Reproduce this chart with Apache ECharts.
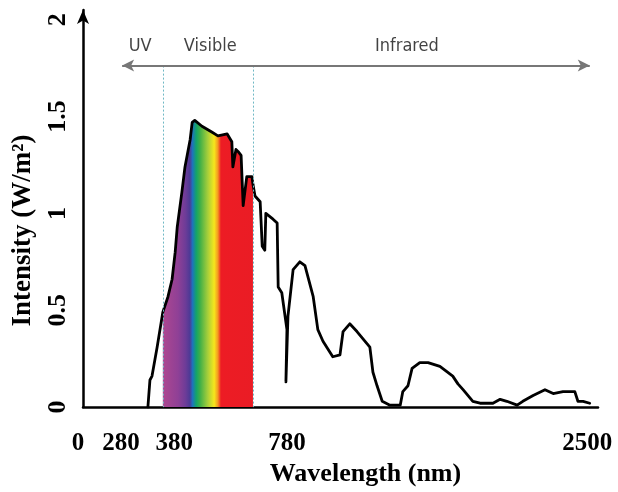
<!DOCTYPE html>
<html>
<head>
<meta charset="utf-8">
<script src="https://cdn.jsdelivr.net/npm/echarts@6/dist/echarts.min.js"></script>
<style>
html,body{margin:0;padding:0;background:#fff;}
#chart{width:618px;height:492px;}
</style>
</head>
<body>
<div id="chart"></div>
<script>
// Position along the (schematic, non-linear) wavelength axis: 0..100
const xTickPos = [0, 7.4, 17.7, 39.6, 97.9];
const xTickLabels = ['0', '280', '380', '780', '2500'];
const yTicks = [0, 0.5, 1, 1.5, 2];

const spectrumX = [12.6,13.0,13.4,14.4,15.5,16.5,17.3,17.9,18.3,19.2,19.8,20.8,21.2,21.7,23.1,25.0,26.2,28.0,28.9,29.1,29.7,30.1,30.7,31.1,31.8,32.8,33.0,33.4,34.4,34.8,35.3,35.5,36.9,37.7,37.9,38.6,39.6,39.4,39.8,40.8,42.1,43.1,44.7,45.6,46.6,48.5,49.9,50.5,51.8,53.2,55.7,56.3,57.1,58.1,59.6,61.6,62.1,63.1,63.9,65.4,67.0,69.3,71.8,72.8,73.8,75.7,77.1,79.6,81.0,82.3,84.3,85.4,87.4,89.7,91.3,93.2,95.5,96.1,97.1,98.4];
const spectrumY = [0,0.14,0.16,0.31,0.49,0.57,0.66,0.80,0.93,1.11,1.24,1.38,1.47,1.48,1.45,1.42,1.40,1.41,1.37,1.24,1.33,1.32,1.30,1.04,1.19,1.19,1.15,1.09,1.06,0.83,0.81,1.00,0.97,0.95,0.62,0.59,0.40,0.13,0.47,0.71,0.75,0.73,0.57,0.40,0.34,0.26,0.27,0.39,0.43,0.39,0.31,0.18,0.11,0.03,0.01,0.01,0.08,0.11,0.20,0.23,0.23,0.21,0.16,0.12,0.09,0.03,0.02,0.02,0.04,0.03,0.01,0.03,0.06,0.09,0.07,0.08,0.08,0.03,0.03,0.02];

const visibleRange = [15.5, 33.0];
const bandArrowY = 1.763;
const bandArrowX = [7.6, 98.4];
const regionNames = ['UV', 'Visible', 'Infrared'];
const regionX = [11.1, 24.7, 62.9];
const regionY = 1.861;

const spectrum = spectrumX.map((x, i) => [x, spectrumY[i]]);
const visible = spectrum.filter(p => p[0] >= visibleRange[0] && p[0] <= visibleRange[1]);

const serif = "'Liberation Serif', 'Times New Roman', serif";
const narrow = "'DejaVu Sans Condensed', 'Liberation Sans Narrow', 'Arial Narrow', sans-serif";

const chart = echarts.init(document.getElementById('chart'));
chart.setOption({
  backgroundColor: '#fff',
  animation: false,
  grid: { left: 83, right: 20, top: 10, bottom: 84 },
  xAxis: {
    type: 'value', min: 0, max: 100,
    name: 'Wavelength (nm)', nameLocation: 'middle', nameGap: 52,
    nameTextStyle: { fontFamily: serif, fontWeight: 'bold', fontSize: 26, color: '#000', padding: [0, 0, 0, 50] },
    axisLine: { show: true, onZero: false, lineStyle: { color: '#000', width: 2.5 } },
    axisTick: { show: false },
    splitLine: { show: false },
    axisLabel: {
      customValues: xTickPos, margin: 24,
      fontFamily: serif, fontWeight: 'bold', fontSize: 25, color: '#000',
      formatter: v => {
        const i = xTickPos.indexOf(v);
        const t = i >= 0 ? xTickLabels[i] : '';
        return i === 0 ? '{z|' + t + '}' : t;
      },
      rich: { z: { fontFamily: serif, fontWeight: 'bold', fontSize: 25, color: '#000', padding: [0, 10, 0, 0] } }
    }
  },
  yAxis: {
    type: 'value', min: 0, max: 2.05,
    name: 'Intensity (W/m²)', nameLocation: 'middle', nameGap: 46,
    nameTextStyle: { fontFamily: serif, fontWeight: 'bold', fontSize: 27, color: '#000', padding: [0, 44, 0, 0] },
    axisLine: { show: true, onZero: false, symbol: ['none', 'arrow'], symbolSize: [9, 14], lineStyle: { color: '#000', width: 2.5 } },
    axisTick: { show: false },
    splitLine: { show: false },
    axisLabel: {
      customValues: yTicks, rotate: 90, margin: 12,
      fontFamily: serif, fontWeight: 'bold', fontSize: 26, color: '#000'
    }
  },
  series: [
    {
      name: 'visibleFill', type: 'line', data: visible, symbol: 'none', z: 1,
      lineStyle: { width: 0, opacity: 0 },
      areaStyle: {
        opacity: 1,
        color: new echarts.graphic.LinearGradient(0, 0, 1, 0, [
          { offset: 0.00, color: '#ad4790' },
          { offset: 0.17, color: '#8f4096' },
          { offset: 0.25, color: '#6e3c98' },
          { offset: 0.30, color: '#4d3a95' },
          { offset: 0.33, color: '#1e73bd' },
          { offset: 0.37, color: '#12a36b' },
          { offset: 0.41, color: '#3cae48' },
          { offset: 0.50, color: '#a8cf3a' },
          { offset: 0.57, color: '#f6e71c' },
          { offset: 0.61, color: '#f59a20' },
          { offset: 0.645, color: '#ed1c24' },
          { offset: 1.00, color: '#ea1c25' }
        ])
      }
    },
    {
      name: 'spectrum', type: 'line', data: spectrum, symbol: 'none', z: 3,
      lineStyle: { color: '#000', width: 2.8, join: 'round', cap: 'round' }
    },
    {
      name: 'bands', type: 'line', data: [], z: 2,
      markLine: {
        silent: true, symbol: 'none', label: { show: false },
        lineStyle: { color: '#6fb8c4', width: 1, type: [2, 2] },
        data: visibleRange.map(x => [{ coord: [x, bandArrowY] }, { coord: [x, 0] }])
      }
    },
    {
      name: 'bandArrow', type: 'line', data: [], z: 2,
      markLine: {
        silent: true, symbol: ['arrow', 'arrow'], symbolSize: [9, 12], label: { show: false },
        lineStyle: { color: '#777', width: 2, type: 'solid' },
        data: [[{ coord: [bandArrowX[0], bandArrowY] }, { coord: [bandArrowX[1], bandArrowY] }]]
      }
    },
    {
      name: 'regions', type: 'scatter', z: 4, symbolSize: 1,
      itemStyle: { color: 'rgba(0,0,0,0)' },
      data: regionX.map((x, i) => ({ value: [x, regionY], name: regionNames[i] })),
      label: {
        show: true, position: 'inside', formatter: p => p.name,
        fontFamily: narrow, fontSize: 18, color: '#111'
      }
    }
  ]
});
</script>
</body>
</html>
